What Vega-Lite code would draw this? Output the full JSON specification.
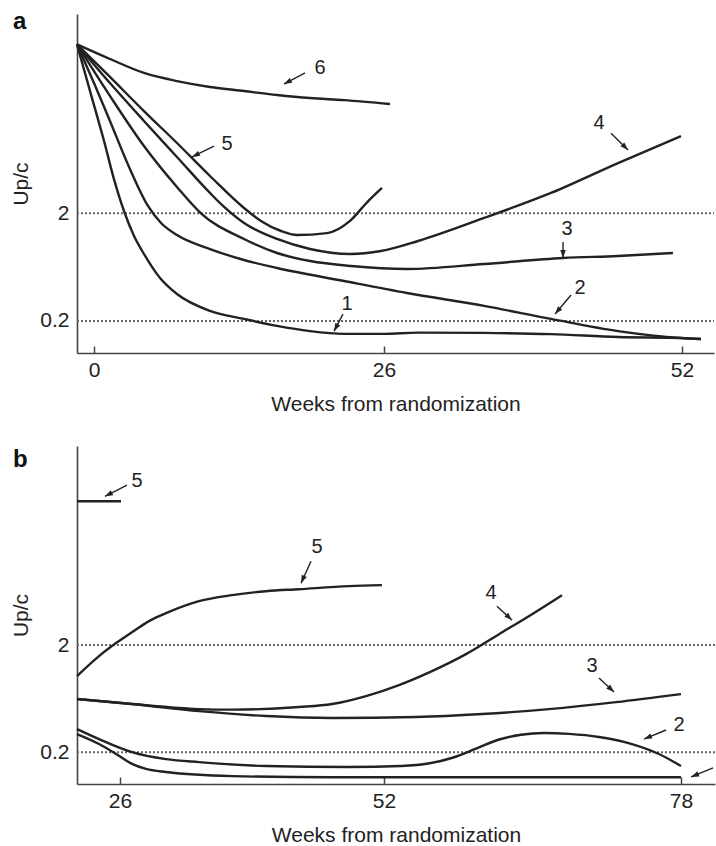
{
  "$schema": "https://vega.github.io/schema/vega-lite/v6.json",
  "padding": {"left": 10, "top": 9, "right": 0, "bottom": 0},
  "spacing": 32,
  "config": {
    "font": "Liberation Sans",
    "view": {"stroke": null},
    "axis": {"domainColor": "#444", "domainWidth": 1.6, "labelFontSize": 21, "titleFontSize": 21, "titleFontWeight": "normal", "labelColor": "#222", "titleColor": "#222", "grid": false, "tickColor": "#444", "tickWidth": 1.5, "labelFlush": false, "labelOverlap": false}
  },
  "datasets": {
    "a_refs": [{"w": -1.5, "w2": 54.8, "v": 2}, {"w": -1.5, "w2": 54.8, "v": 0.2}],
    "b_refs": [{"w": 21.76, "w2": 80.98, "v": 2}, {"w": 21.76, "w2": 80.98, "v": 0.2}],
    "a_tag": [{"t": "a", "w": -7.15, "v": 102.9}],
    "b_tag": [{"t": "b", "w": 15.45, "v": 91.8}],
    "a_curves": [
      {"c": "6", "w": -1.5, "v": 74}, {"c": "6", "w": 1.43, "v": 54.2}, {"c": "6", "w": 4.48, "v": 40.2}, {"c": "6", "w": 7.44, "v": 33.8}, {"c": "6", "w": 10.4, "v": 29.8}, {"c": "6", "w": 13.45, "v": 27.3}, {"c": "6", "w": 16.41, "v": 25.1}, {"c": "6", "w": 19.37, "v": 23.5}, {"c": "6", "w": 22.41, "v": 22.5}, {"c": "6", "w": 26.52, "v": 20.7},
      {"c": "5", "w": -1.5, "v": 74}, {"c": "5", "w": 1.43, "v": 36.9}, {"c": "5", "w": 4.48, "v": 17.8}, {"c": "5", "w": 7.44, "v": 8.99}, {"c": "5", "w": 10.4, "v": 4.44}, {"c": "5", "w": 13.45, "v": 2.24}, {"c": "5", "w": 14.97, "v": 1.7}, {"c": "5", "w": 16.77, "v": 1.37}, {"c": "5", "w": 18.2, "v": 1.258}, {"c": "5", "w": 20.89, "v": 1.31}, {"c": "5", "w": 22.95, "v": 1.7}, {"c": "5", "w": 24.48, "v": 2.53}, {"c": "5", "w": 25.82, "v": 3.44},
      {"c": "4", "w": -1.5, "v": 74}, {"c": "4", "w": 1.43, "v": 32.4}, {"c": "4", "w": 4.48, "v": 14.4}, {"c": "4", "w": 7.44, "v": 6.67}, {"c": "4", "w": 10.4, "v": 3.09}, {"c": "4", "w": 11.57, "v": 2.34}, {"c": "4", "w": 13.45, "v": 1.625}, {"c": "4", "w": 16.41, "v": 1.155}, {"c": "4", "w": 19.37, "v": 0.932}, {"c": "4", "w": 22.95, "v": 0.838}, {"c": "4", "w": 25.73, "v": 0.893}, {"c": "4", "w": 28.97, "v": 1.106}, {"c": "4", "w": 34.73, "v": 1.81}, {"c": "4", "w": 40.57, "v": 3.09}, {"c": "4", "w": 46.42, "v": 5.86}, {"c": "4", "w": 51.91, "v": 10.4},
      {"c": "3", "w": -1.5, "v": 74}, {"c": "3", "w": 1.43, "v": 24.6}, {"c": "3", "w": 4.48, "v": 8.43}, {"c": "3", "w": 7.44, "v": 3.51}, {"c": "3", "w": 9.59, "v": 2.0}, {"c": "3", "w": 13.45, "v": 1.155}, {"c": "3", "w": 16.41, "v": 0.856}, {"c": "3", "w": 19.37, "v": 0.721}, {"c": "3", "w": 23.04, "v": 0.648}, {"c": "3", "w": 28.01, "v": 0.608}, {"c": "3", "w": 34.73, "v": 0.676}, {"c": "3", "w": 41.62, "v": 0.769}, {"c": "3", "w": 46.42, "v": 0.803}, {"c": "3", "w": 51.21, "v": 0.856},
      {"c": "2", "w": -1.5, "v": 74}, {"c": "2", "w": 0, "v": 32.4}, {"c": "2", "w": 1.43, "v": 14.4}, {"c": "2", "w": 3.14, "v": 5.39}, {"c": "2", "w": 4.84, "v": 2.34}, {"c": "2", "w": 6.01, "v": 1.625}, {"c": "2", "w": 7.44, "v": 1.258}, {"c": "2", "w": 10.4, "v": 0.932}, {"c": "2", "w": 13.45, "v": 0.737}, {"c": "2", "w": 16.41, "v": 0.621}, {"c": "2", "w": 22.41, "v": 0.47}, {"c": "2", "w": 28.01, "v": 0.364}, {"c": "2", "w": 34.73, "v": 0.276}, {"c": "2", "w": 40.57, "v": 0.209}, {"c": "2", "w": 46.42, "v": 0.161}, {"c": "2", "w": 51.91, "v": 0.139}, {"c": "2", "w": 53.66, "v": 0.136},
      {"c": "1", "w": -1.5, "v": 74}, {"c": "1", "w": -0.35, "v": 27.3}, {"c": "1", "w": 0.9, "v": 9.38}, {"c": "1", "w": 1.79, "v": 4.16}, {"c": "1", "w": 2.69, "v": 2.1}, {"c": "1", "w": 3.59, "v": 1.231}, {"c": "1", "w": 4.48, "v": 0.838}, {"c": "1", "w": 5.92, "v": 0.501}, {"c": "1", "w": 7.44, "v": 0.356}, {"c": "1", "w": 10.4, "v": 0.248}, {"c": "1", "w": 13.45, "v": 0.209}, {"c": "1", "w": 16.41, "v": 0.18}, {"c": "1", "w": 19.37, "v": 0.161}, {"c": "1", "w": 22.41, "v": 0.152}, {"c": "1", "w": 26.0, "v": 0.152}, {"c": "1", "w": 28.97, "v": 0.156}, {"c": "1", "w": 34.73, "v": 0.155}, {"c": "1", "w": 40.57, "v": 0.151}, {"c": "1", "w": 46.42, "v": 0.142}, {"c": "1", "w": 51.91, "v": 0.139}, {"c": "1", "w": 53.66, "v": 0.136}
    ],
    "a_arrows": [
      {"t": "6", "w": 18.92, "v": 40.2, "w2": 17.03, "v2": 31.7, "ang": 242},
      {"t": "5", "w": 10.76, "v": 8.43, "w2": 8.79, "v2": 6.67, "ang": 243},
      {"t": "4", "w": 45.81, "v": 11.1, "w2": 47.29, "v2": 7.74, "ang": 135},
      {"t": "3", "w": 41.62, "v": 1.083, "w2": 41.62, "v2": 0.769, "ang": 180},
      {"t": "2", "w": 42.32, "v": 0.349, "w2": 40.92, "v2": 0.232, "ang": 220},
      {"t": "1", "w": 22.32, "v": 0.232, "w2": 21.52, "v2": 0.161, "ang": 208}
    ],
    "a_labels": [
      {"t": "6", "w": 20.26, "v": 44.7}, {"t": "5", "w": 11.92, "v": 8.79}, {"t": "4", "w": 44.76, "v": 13.8},
      {"t": "3", "w": 41.97, "v": 1.43}, {"t": "2", "w": 43.1, "v": 0.405}, {"t": "1", "w": 22.68, "v": 0.288}
    ],
    "b_curves": [
      {"c": "5s", "w": 21.76, "v": 44.0}, {"c": "5s", "w": 26.1, "v": 44.0},
      {"c": "5", "w": 21.76, "v": 1.029}, {"c": "5", "w": 23.93, "v": 1.58}, {"c": "5", "w": 25.61, "v": 2.09}, {"c": "5", "w": 27.18, "v": 2.64}, {"c": "5", "w": 28.86, "v": 3.35}, {"c": "5", "w": 30.53, "v": 3.97}, {"c": "5", "w": 33.78, "v": 5.14}, {"c": "5", "w": 37.03, "v": 5.85}, {"c": "5", "w": 40.38, "v": 6.37}, {"c": "5", "w": 43.63, "v": 6.65}, {"c": "5", "w": 48.55, "v": 7.1}, {"c": "5", "w": 51.8, "v": 7.25},
      {"c": "4", "w": 21.76, "v": 0.628}, {"c": "4", "w": 27.18, "v": 0.564}, {"c": "4", "w": 33.78, "v": 0.506}, {"c": "4", "w": 37.03, "v": 0.5}, {"c": "4", "w": 43.63, "v": 0.529}, {"c": "4", "w": 46.88, "v": 0.564}, {"c": "4", "w": 50.23, "v": 0.669}, {"c": "4", "w": 53.31, "v": 0.848}, {"c": "4", "w": 56.2, "v": 1.145}, {"c": "4", "w": 59.18, "v": 1.649}, {"c": "4", "w": 62.07, "v": 2.53}, {"c": "4", "w": 64.96, "v": 3.89}, {"c": "4", "w": 67.58, "v": 5.85},
      {"c": "3", "w": 21.76, "v": 0.628}, {"c": "3", "w": 27.18, "v": 0.564}, {"c": "3", "w": 33.78, "v": 0.485}, {"c": "3", "w": 40.38, "v": 0.436}, {"c": "3", "w": 46.88, "v": 0.418}, {"c": "3", "w": 54.8, "v": 0.427}, {"c": "3", "w": 60.58, "v": 0.455}, {"c": "3", "w": 66.44, "v": 0.506}, {"c": "3", "w": 72.31, "v": 0.588}, {"c": "3", "w": 78, "v": 0.699},
      {"c": "2", "w": 21.76, "v": 0.33}, {"c": "2", "w": 23.93, "v": 0.266}, {"c": "2", "w": 27.18, "v": 0.201}, {"c": "2", "w": 30.53, "v": 0.173}, {"c": "2", "w": 33.78, "v": 0.162}, {"c": "2", "w": 40.38, "v": 0.149}, {"c": "2", "w": 48.55, "v": 0.146}, {"c": "2", "w": 53.5, "v": 0.149}, {"c": "2", "w": 56.0, "v": 0.158}, {"c": "2", "w": 58.0, "v": 0.178}, {"c": "2", "w": 60.0, "v": 0.215}, {"c": "2", "w": 62.0, "v": 0.262}, {"c": "2", "w": 64.0, "v": 0.292}, {"c": "2", "w": 66.0, "v": 0.303}, {"c": "2", "w": 68.2, "v": 0.297}, {"c": "2", "w": 70.82, "v": 0.278}, {"c": "2", "w": 73.71, "v": 0.239}, {"c": "2", "w": 76.07, "v": 0.193}, {"c": "2", "w": 78, "v": 0.149},
      {"c": "1", "w": 21.76, "v": 0.296}, {"c": "1", "w": 23.93, "v": 0.239}, {"c": "1", "w": 25.61, "v": 0.193}, {"c": "1", "w": 27.18, "v": 0.156}, {"c": "1", "w": 28.56, "v": 0.14}, {"c": "1", "w": 30.53, "v": 0.131}, {"c": "1", "w": 37.03, "v": 0.12}, {"c": "1", "w": 46.88, "v": 0.117}, {"c": "1", "w": 54.8, "v": 0.117}, {"c": "1", "w": 78, "v": 0.117}
    ],
    "b_arrows": [
      {"t": "5", "w": 26.69, "v": 62.0, "w2": 24.52, "v2": 48.9, "ang": 243},
      {"t": "5", "w": 44.81, "v": 12.1, "w2": 43.83, "v2": 7.56, "ang": 204},
      {"t": "4", "w": 61.89, "v": 4.62, "w2": 63.21, "v2": 3.42, "ang": 133},
      {"t": "3", "w": 70.82, "v": 0.985, "w2": 72.14, "v2": 0.73, "ang": 133},
      {"t": "2", "w": 76.69, "v": 0.323, "w2": 74.76, "v2": 0.266, "ang": 248},
      {"t": "1", "w": 80.81, "v": 0.143, "w2": 78.88, "v2": 0.118, "ang": 248}
    ],
    "b_labels": [
      {"t": "5", "w": 27.67, "v": 67.5}, {"t": "5", "w": 45.4, "v": 16.4}, {"t": "4", "w": 61.37, "v": 6.1},
      {"t": "3", "w": 70.21, "v": 1.274}, {"t": "2", "w": 77.82, "v": 0.359}
    ]
  },
  "vconcat": [
    {
      "width": 637,
      "height": 339,
      "encoding": {
        "x": {"field": "w", "type": "quantitative", "title": "Weeks from randomization",
              "scale": {"domain": [-1.5, 0, 26, 52, 54.8], "range": [0, 17, 307, 605, 637], "nice": false, "zero": false},
              "axis": {"values": [0, 26, 52], "tickSize": -7, "labelPadding": 13, "titlePadding": 13}},
        "y": {"field": "v", "type": "quantitative", "title": "Up/c",
              "scale": {"type": "log", "domain": [0.1009, 141.8], "nice": false},
              "axis": {"values": [0.2, 2], "format": "~g", "ticks": false, "labelPadding": 8, "titlePadding": 8}}
      },
      "layer": [
        {"data": {"name": "a_refs"}, "mark": {"type": "rule", "stroke": "#666", "strokeDash": [2, 2], "strokeWidth": 2}, "encoding": {"x2": {"field": "w2"}}},
        {"data": {"name": "a_curves"}, "mark": {"type": "line", "interpolate": "monotone", "stroke": "#222", "strokeWidth": 2.4}, "encoding": {"detail": {"field": "c"}}},
        {"data": {"name": "a_arrows"}, "mark": {"type": "rule", "stroke": "#222", "strokeWidth": 1.4}, "encoding": {"x2": {"field": "w2"}, "y2": {"field": "v2"}}},
        {"data": {"name": "a_arrows"}, "mark": {"type": "point", "shape": "M0,0L0.45,1.3L-0.45,1.3Z", "filled": true, "fill": "#222", "opacity": 1, "size": 150, "strokeWidth": 0},
         "encoding": {"x": {"field": "w2", "type": "quantitative", "title": "Weeks from randomization"}, "y": {"field": "v2", "type": "quantitative", "title": "Up/c"}, "angle": {"field": "ang", "type": "quantitative", "scale": null}}},
        {"data": {"name": "a_labels"}, "mark": {"type": "text", "fontSize": 20, "font": "Liberation Sans", "fill": "#222"}, "encoding": {"text": {"field": "t"}}},
        {"data": {"name": "a_tag"}, "mark": {"type": "text", "fontSize": 24, "fontWeight": "bold", "font": "Liberation Sans", "fill": "#111", "align": "left", "baseline": "alphabetic"}, "encoding": {"text": {"field": "t"}}}
      ]
    },
    {
      "width": 638,
      "height": 338,
      "encoding": {
        "x": {"field": "w", "type": "quantitative", "title": "Weeks from randomization",
              "scale": {"domain": [21.76, 26, 52, 78, 80.98], "range": [0, 43, 307, 604, 638], "nice": false, "zero": false},
              "axis": {"values": [26, 52, 78], "tickSize": -7, "labelPadding": 13, "titlePadding": 13}},
        "y": {"field": "v", "type": "quantitative", "title": "Up/c",
              "scale": {"type": "log", "domain": [0.1013, 144], "nice": false},
              "axis": {"values": [0.2, 2], "format": "~g", "ticks": false, "labelPadding": 8, "titlePadding": 8}}
      },
      "layer": [
        {"data": {"name": "b_refs"}, "mark": {"type": "rule", "stroke": "#666", "strokeDash": [2, 2], "strokeWidth": 2}, "encoding": {"x2": {"field": "w2"}}},
        {"data": {"name": "b_curves"}, "mark": {"type": "line", "interpolate": "monotone", "stroke": "#222", "strokeWidth": 2.4}, "encoding": {"detail": {"field": "c"}}},
        {"data": {"name": "b_arrows"}, "mark": {"type": "rule", "stroke": "#222", "strokeWidth": 1.4}, "encoding": {"x2": {"field": "w2"}, "y2": {"field": "v2"}}},
        {"data": {"name": "b_arrows"}, "mark": {"type": "point", "shape": "M0,0L0.45,1.3L-0.45,1.3Z", "filled": true, "fill": "#222", "opacity": 1, "size": 150, "strokeWidth": 0},
         "encoding": {"x": {"field": "w2", "type": "quantitative", "title": "Weeks from randomization"}, "y": {"field": "v2", "type": "quantitative", "title": "Up/c"}, "angle": {"field": "ang", "type": "quantitative", "scale": null}}},
        {"data": {"name": "b_labels"}, "mark": {"type": "text", "fontSize": 20, "font": "Liberation Sans", "fill": "#222"}, "encoding": {"text": {"field": "t"}}},
        {"data": {"name": "b_tag"}, "mark": {"type": "text", "fontSize": 24, "fontWeight": "bold", "font": "Liberation Sans", "fill": "#111", "align": "left", "baseline": "alphabetic"}, "encoding": {"text": {"field": "t"}}}
      ]
    }
  ]
}
